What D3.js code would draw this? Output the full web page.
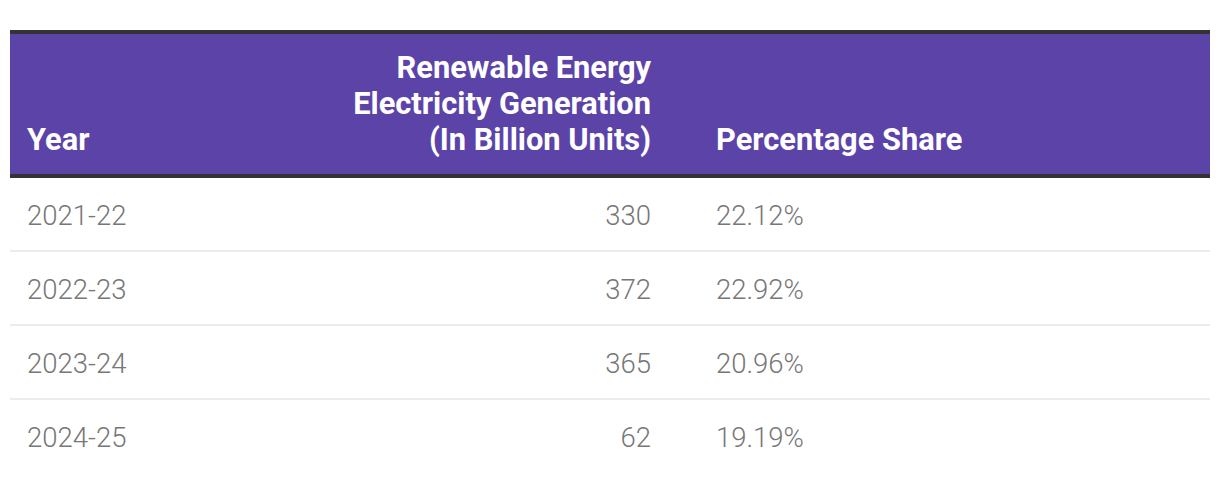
<!DOCTYPE html>
<html><head><meta charset="utf-8">
<script src="https://cdn.jsdelivr.net/npm/d3@7"></script>
<style>
html,body{margin:0;padding:0;background:#fff;}
svg{display:block;font-family:Roboto, "Noto Sans", sans-serif;}
</style></head>
<body>
<svg id="chart" width="1220" height="482"></svg>
<script>
const headers = [["Year"], ["Renewable Energy", "Electricity Generation", "(In Billion Units)"], ["Percentage Share"]];
const years = ["2021-22", "2022-23", "2023-24", "2024-25"];
const generation = [330, 372, 365, 62];
const share = ["22.12%", "22.92%", "20.96%", "19.19%"];

const svg = d3.select("#chart");
const left = 10, right = 1210;
const headTop = 30, headBottom = 178;
const y = d3.scaleBand().domain(years).range([178, 178 + 74 * years.length]);

// header
svg.append("rect").attr("x", left).attr("y", headTop).attr("width", right - left).attr("height", headBottom - headTop).attr("fill", "#5c43a8");
svg.append("rect").attr("x", left).attr("y", headTop).attr("width", right - left).attr("height", 4).attr("fill", "#333");
svg.append("rect").attr("x", left).attr("y", headBottom - 4).attr("width", right - left).attr("height", 4).attr("fill", "#333");

const cols = [
  {x: 27, anchor: "start"},
  {x: 651, anchor: "end"},
  {x: 716, anchor: "start"}
];
const lh = 36, lastBase = 150;
headers.forEach((lines, i) => {
  const t = svg.append("text").attr("text-anchor", cols[i].anchor)
    .attr("fill", "#fff").attr("font-size", 30.8).attr("font-weight", 700);
  lines.forEach((l, j) => {
    t.append("tspan").attr("x", cols[i].x).attr("y", lastBase - (lines.length - 1 - j) * lh).text(l);
  });
});

// rows
const rows = svg.selectAll("g.row").data(years).join("g").attr("class", "row");
rows.filter((d, i) => i < years.length - 1).append("rect")
  .attr("x", left).attr("width", right - left)
  .attr("y", d => y(d) + y.bandwidth() - 2).attr("height", 2).attr("fill", "#ececec");
const cell = (sel, col, fn) => sel.append("text")
  .attr("x", cols[col].x).attr("y", d => y(d) + 47)
  .attr("text-anchor", cols[col].anchor)
  .attr("font-size", 27.5).attr("font-weight", 300).attr("fill", "#777")
  .text(fn);
cell(rows, 0, d => d);
cell(rows, 1, (d, i) => generation[i]);
cell(rows, 2, (d, i) => share[i]);
</script>
</body></html>
